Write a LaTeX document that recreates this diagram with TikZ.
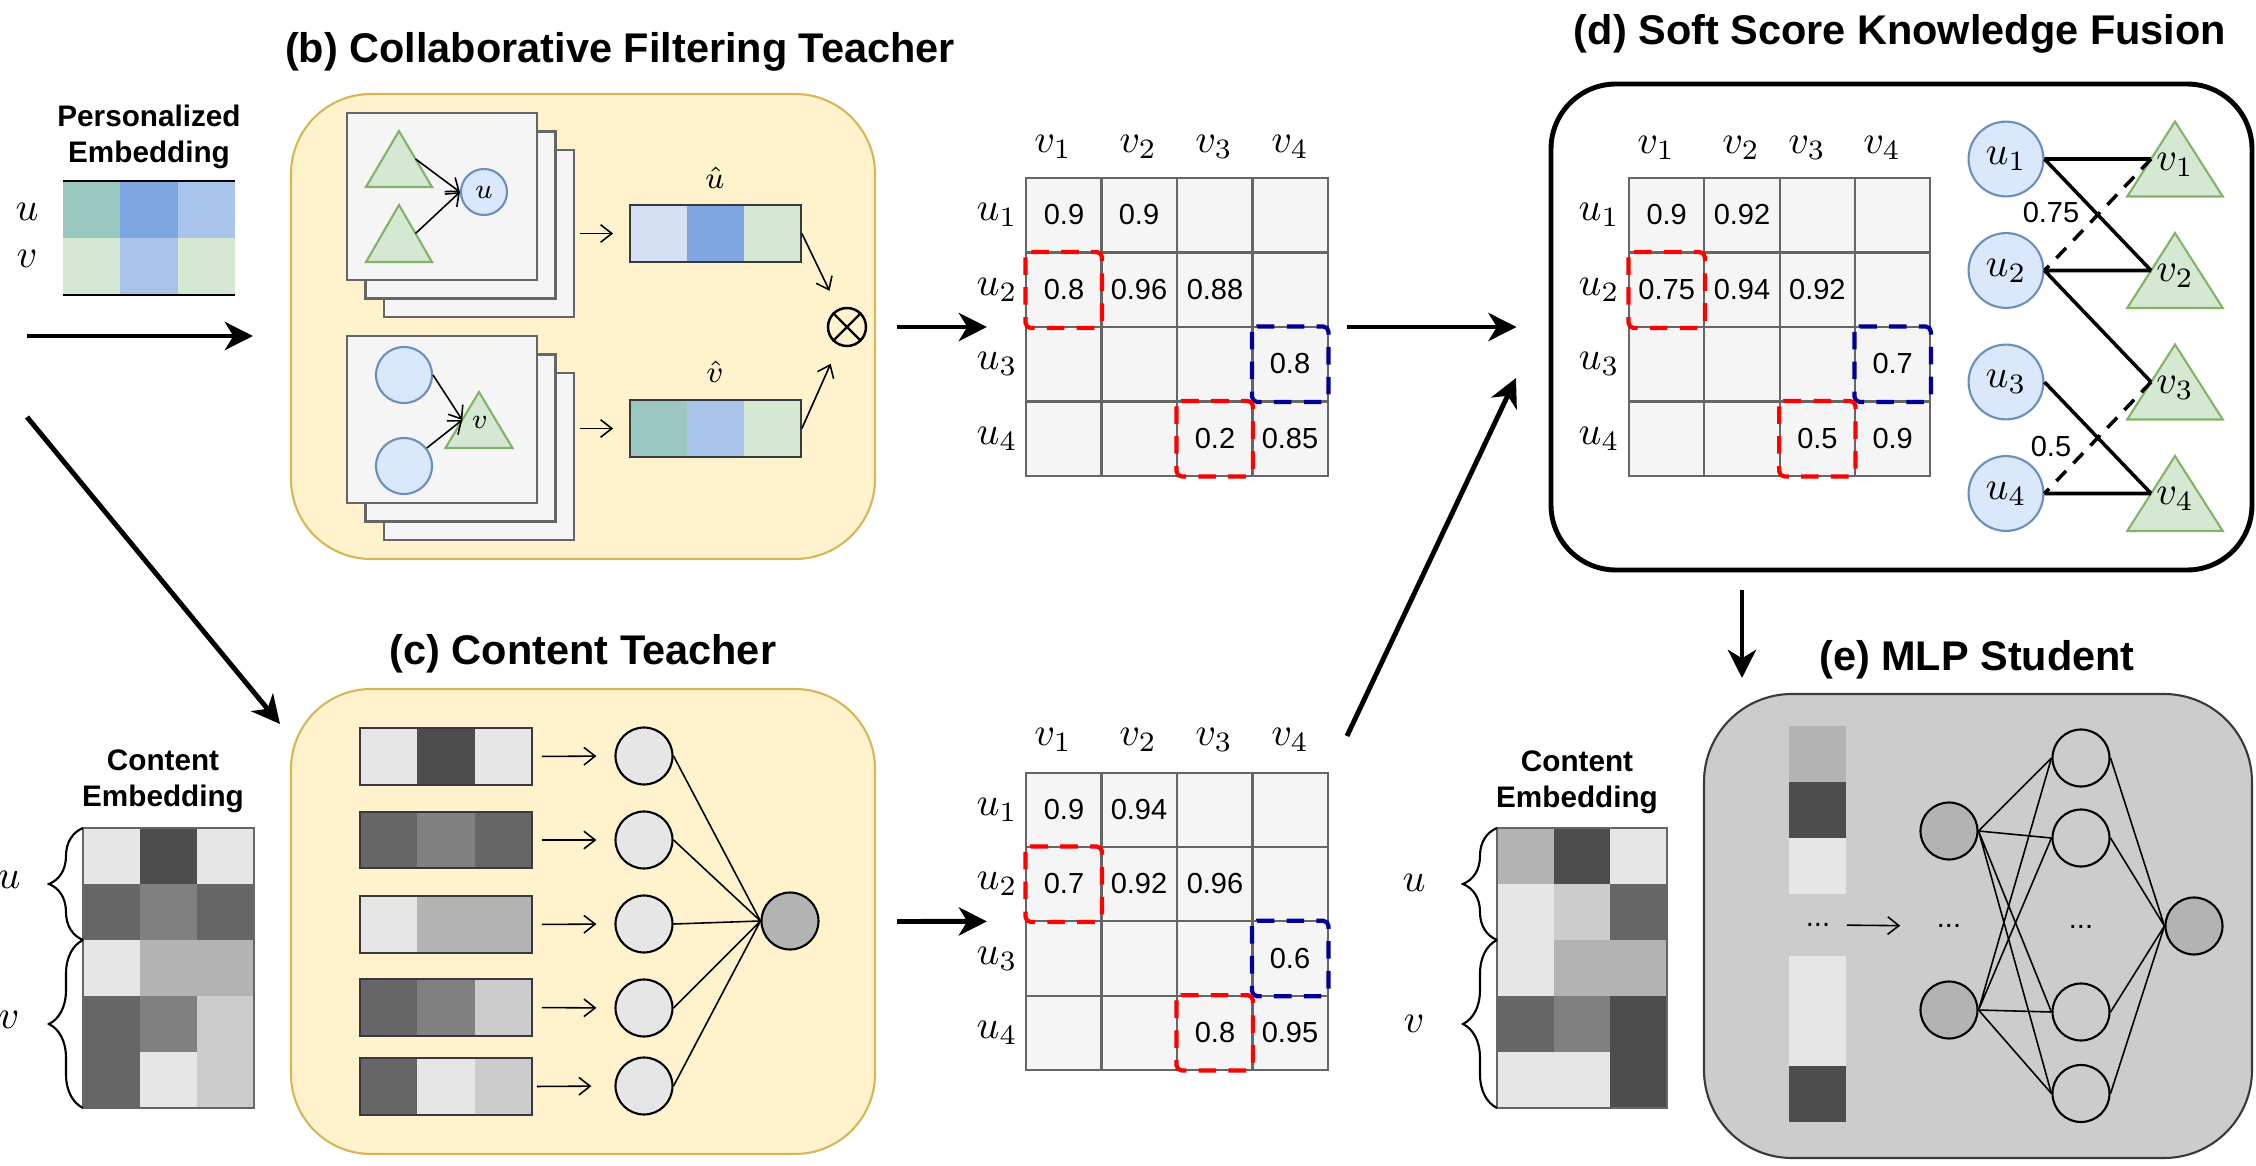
\RequirePackage{fix-cm}
\documentclass[tikz,border=0pt]{standalone}
\usepackage{fontspec}
\setmainfont{Liberation Sans}
\usepackage{tikz}
\usetikzlibrary{arrows.meta,decorations.pathreplacing}

\definecolor{yfill}{HTML}{FFF2CC}
\definecolor{ydraw}{HTML}{D6B656}
\definecolor{cteal}{HTML}{9AC7BF}
\definecolor{cblue}{HTML}{7EA6E0}
\definecolor{clblue}{HTML}{A9C4EB}
\definecolor{cpblue}{HTML}{D4E1F5}
\definecolor{cgreen}{HTML}{D5E8D4}
\definecolor{cgdraw}{HTML}{82B366}
\definecolor{cufill}{HTML}{DAE8FC}
\definecolor{cudraw}{HTML}{6C8EBF}
\definecolor{cpanel}{HTML}{F5F5F5}
\definecolor{cgrid}{HTML}{666666}
\definecolor{cnavy}{HTML}{000099}
\definecolor{g90}{HTML}{E6E6E6}
\definecolor{g80}{HTML}{CCCCCC}
\definecolor{g70}{HTML}{B3B3B3}
\definecolor{g50}{HTML}{808080}
\definecolor{g40}{HTML}{666666}
\definecolor{g30}{HTML}{4D4D4D}
\definecolor{edraw}{HTML}{36393D}

\begin{document}
\begin{tikzpicture}[y=-1cm,
  ttl/.style={anchor=base, font=\fontsize{11.8}{14}\selectfont\bfseries},
  emb/.style={align=center, inner sep=0pt, font=\fontsize{8.45}{10.2}\selectfont\bfseries},
  num/.style={inner sep=0pt, font=\fontsize{8.25}{10}\selectfont},
  lbl/.style={inner sep=0pt, font=\fontsize{11.4}{13}\selectfont},
  slbl/.style={inner sep=0pt, font=\fontsize{8}{9}\selectfont},
  mlbl/.style={inner sep=0pt, font=\fontsize{8.8}{10}\selectfont},
  big/.style={line width=1.4pt, -{Stealth[length=8pt,width=8pt,inset=2.4pt]}},
  sarr/.style={line width=0.45pt, -{Straight Barb[length=3.2pt,width=5pt]}},
  net/.style={line width=0.45pt},
  link/.style={line width=1pt},
  dlink/.style={line width=1pt, dash pattern=on 4pt off 3pt},
  ybox/.style={draw=ydraw, fill=yfill, line width=0.6pt, rounded corners=0.8cm, inner sep=0pt},
  card/.style={draw=cgrid, fill=cpanel, line width=0.7pt, minimum width=1.9cm, minimum height=1.67cm, inner sep=0pt},
  vbox/.style={draw=edraw, line width=0.5pt, inner sep=0pt},
  tri/.style={draw=cgdraw, fill=cgreen, line width=0.6pt},
  ucirc/.style={circle, draw=cudraw, fill=cufill, line width=0.6pt, inner sep=0pt},
  ncirc/.style={circle, draw=black, line width=0.6pt, inner sep=0pt, minimum size=0.57cm},
  mat/.style={draw=cgrid, fill=cpanel, line width=0.6pt, inner sep=0pt},
  cellline/.style={draw=cgrid, line width=0.6pt},
  reddash/.style={draw=red, line width=1.2pt, dash pattern=on 5pt off 3.5pt, rounded corners=1.5pt},
  bluedash/.style={draw=cnavy, line width=1.2pt, dash pattern=on 5pt off 3.5pt, rounded corners=1.5pt},
  brc/.style={decorate, decoration={brace, amplitude=0.34cm}, line width=0.6pt}]

\useasboundingbox (0,0) rectangle (22.56,11.66);

% titles:
\node[ttl] (tb) at (6.20,0.62) {(b) Collaborative Filtering Teacher};
\node[ttl] (tc) at (5.83,6.64) {(c) Content Teacher};
\node[ttl] (td) at (19.00,0.44) {(d) Soft Score Knowledge Fusion};
\node[ttl] (te) at (19.77,6.70) {(e) MLP Student};

% personalized embedding:
\node[emb] (pe) at (1.49,1.37) {Personalized\\Embedding};
\fill[cteal] (0.63,1.81) rectangle (1.203,2.38);
\fill[cblue] (1.203,1.81) rectangle (1.777,2.38);
\fill[clblue] (1.777,1.81) rectangle (2.35,2.38);
\fill[cgreen] (0.63,2.38) rectangle (1.203,2.95);
\fill[clblue] (1.203,2.38) rectangle (1.777,2.95);
\fill[cgreen] (1.777,2.38) rectangle (2.35,2.95);
\draw[line width=0.5pt] (0.63,1.81) -- (2.35,1.81) (0.63,2.95) -- (2.35,2.95);
\node[lbl] (peu) at (0.27,2.12) {$u$};
\node[lbl] (pev) at (0.27,2.59) {$v$};

% collaborative filtering teacher:
\node[ybox, minimum width=5.84cm, minimum height=4.65cm] (bbox) at (5.83,3.265) {};
\node[card] (cu3) at (4.79,2.335) {};
\node[card] (cu2) at (4.605,2.15) {};
\node[card] (cu1) at (4.42,1.965) {};
\draw[tri] (3.99,1.31) -- (4.32,1.87) -- (3.66,1.87) -- cycle;
\draw[tri] (3.99,2.05) -- (4.32,2.62) -- (3.66,2.62) -- cycle;
\coordinate (t1e) at (4.155,1.59);
\coordinate (t2e) at (4.155,2.335);
\node[ucirc, slbl, minimum size=0.46cm] (cu) at (4.84,1.92) {$u$};
\draw[sarr] (t1e) -- (cu.west);
\draw[sarr] (t2e) -- (cu.west);
\node[card] (cv3) at (4.79,4.565) {};
\node[card] (cv2) at (4.605,4.38) {};
\node[card] (cv1) at (4.42,4.195) {};
\node[ucirc, minimum size=0.56cm] (cc1) at (4.04,3.75) {};
\node[ucirc, minimum size=0.56cm] (cc2) at (4.04,4.66) {};
\draw[tri] (4.79,3.92) -- (5.125,4.48) -- (4.455,4.48) -- cycle;
\coordinate (tvw) at (4.6225,4.20);
\node[slbl] (cv) at (4.80,4.22) {$v$};
\draw[sarr] (cc1.east) -- (tvw);
\draw[sarr] (cc2) -- (tvw);
\fill[cpblue] (6.30,2.05) rectangle (6.87,2.62);
\fill[cblue] (6.87,2.05) rectangle (7.44,2.62);
\fill[cgreen] (7.44,2.05) rectangle (8.01,2.62);
\node[vbox, minimum width=1.71cm, minimum height=0.57cm] (uh) at (7.155,2.335) {};
\node[mlbl] (uhl) at (7.15,1.78) {$\hat{u}$};
\fill[cteal] (6.30,4.00) rectangle (6.87,4.57);
\fill[clblue] (6.87,4.00) rectangle (7.44,4.57);
\fill[cgreen] (7.44,4.00) rectangle (8.01,4.57);
\node[vbox, minimum width=1.71cm, minimum height=0.57cm] (vh) at (7.155,4.285) {};
\node[mlbl] (vhl) at (7.15,3.72) {$\hat{v}$};
\draw[sarr, shorten <=0.05cm, shorten >=0.16cm] (cu3.east |- uh) -- (uh.west);
\draw[sarr, shorten <=0.05cm, shorten >=0.16cm] (cv3.east |- vh) -- (vh.west);
\node[circle, draw, line width=0.7pt, minimum size=0.38cm, inner sep=0pt] (prod) at (8.47,3.27) {};
\draw[line width=0.7pt] (prod.north east) -- (prod.south west) (prod.north west) -- (prod.south east);
\draw[sarr, shorten >=0.2cm] (uh.east) -- (prod);
\draw[sarr, shorten >=0.2cm] (vh.east) -- (prod);

% content embedding, left:
\node[emb] (cel) at (1.63,7.815) {Content\\Embedding};
\fill[g90] (0.83,8.28) rectangle (1.40,8.84);
\fill[g30] (1.40,8.28) rectangle (1.97,8.84);
\fill[g90] (1.97,8.28) rectangle (2.54,8.84);
\fill[g40] (0.83,8.84) rectangle (1.40,9.40);
\fill[g50] (1.40,8.84) rectangle (1.97,9.40);
\fill[g40] (1.97,8.84) rectangle (2.54,9.40);
\fill[g90] (0.83,9.40) rectangle (1.40,9.96);
\fill[g70] (1.40,9.40) rectangle (1.97,9.96);
\fill[g70] (1.97,9.40) rectangle (2.54,9.96);
\fill[g40] (0.83,9.96) rectangle (1.40,10.52);
\fill[g50] (1.40,9.96) rectangle (1.97,10.52);
\fill[g80] (1.97,9.96) rectangle (2.54,10.52);
\fill[g40] (0.83,10.52) rectangle (1.40,11.08);
\fill[g90] (1.40,10.52) rectangle (1.97,11.08);
\fill[g80] (1.97,10.52) rectangle (2.54,11.08);
\draw[cgrid, line width=0.4pt] (0.83,8.28) rectangle (2.54,11.08);
\draw[brc] (0.83,9.40) -- (0.83,8.28);
\draw[brc] (0.83,11.08) -- (0.83,9.40);
\node[lbl] (celu) at (0.09,8.80) {$u$};
\node[lbl] (celv) at (0.09,10.20) {$v$};

% content teacher:
\node[ybox, minimum width=5.84cm, minimum height=4.65cm] (cbox) at (5.83,9.215) {};
\fill[g90] (3.60,7.28) rectangle (4.173,7.85);
\fill[g30] (4.173,7.28) rectangle (4.747,7.85);
\fill[g90] (4.747,7.28) rectangle (5.32,7.85);
\fill[g40] (3.60,8.12) rectangle (4.173,8.68);
\fill[g50] (4.173,8.12) rectangle (4.747,8.68);
\fill[g40] (4.747,8.12) rectangle (5.32,8.68);
\fill[g90] (3.60,8.96) rectangle (4.173,9.53);
\fill[g70] (4.173,8.96) rectangle (5.32,9.53);
\fill[g40] (3.60,9.79) rectangle (4.173,10.36);
\fill[g50] (4.173,9.79) rectangle (4.747,10.36);
\fill[g80] (4.747,9.79) rectangle (5.32,10.36);
\fill[g40] (3.60,10.58) rectangle (4.173,11.15);
\fill[g90] (4.173,10.58) rectangle (4.747,11.15);
\fill[g80] (4.747,10.58) rectangle (5.32,11.15);
\node[vbox, minimum width=1.72cm, minimum height=0.57cm] (k1) at (4.46,7.565) {};
\node[vbox, minimum width=1.72cm, minimum height=0.56cm] (k2) at (4.46,8.40) {};
\node[vbox, minimum width=1.72cm, minimum height=0.57cm] (k3) at (4.46,9.245) {};
\node[vbox, minimum width=1.72cm, minimum height=0.57cm] (k4) at (4.46,10.075) {};
\node[vbox, minimum width=1.72cm, minimum height=0.57cm] (k5) at (4.46,10.865) {};
\node[ncirc, fill=g90] (n1) at (6.44,7.56) {};
\node[ncirc, fill=g90] (n2) at (6.44,8.40) {};
\node[ncirc, fill=g90] (n3) at (6.44,9.24) {};
\node[ncirc, fill=g90] (n4) at (6.44,10.08) {};
\node[ncirc, fill=g90] (n5) at (6.44,10.86) {};
\node[ncirc, fill=g70] (nout) at (7.90,9.21) {};
\draw[sarr, shorten <=0.09cm, shorten >=0.18cm] (k1.east) -- (n1.west);
\draw[sarr, shorten <=0.09cm, shorten >=0.18cm] (k2.east) -- (n2.west);
\draw[sarr, shorten <=0.09cm, shorten >=0.18cm] (k3.east) -- (n3.west);
\draw[sarr, shorten <=0.09cm, shorten >=0.18cm] (k4.east) -- (n4.west);
\draw[sarr, shorten <=0.04cm, shorten >=0.23cm] (k5.east) -- (n5.west);
\draw[net] (n1.east) -- (nout.west) (n2.east) -- (nout.west) (n3.east) -- (nout.west) (n4.east) -- (nout.west) (n5.east) -- (nout.west);

% score matrix of (b):
\node[mat, minimum width=3.02cm, minimum height=2.98cm] (am) at (11.77,3.27) {};
\draw[cellline] (11.015,1.78) -- (11.015,4.76) (11.77,1.78) -- (11.77,4.76) (12.525,1.78) -- (12.525,4.76) (10.26,2.525) -- (13.28,2.525) (10.26,3.27) -- (13.28,3.27) (10.26,4.015) -- (13.28,4.015);
\node[lbl] (av1) at (10.53,1.47) {$v_1$};
\node[lbl] (av2) at (11.38,1.47) {$v_2$};
\node[lbl] (av3) at (12.14,1.47) {$v_3$};
\node[lbl] (av4) at (12.90,1.47) {$v_4$};
\node[lbl] (au1) at (9.97,2.15) {$u_1$};
\node[lbl] (au2) at (9.97,2.90) {$u_2$};
\node[lbl] (au3) at (9.97,3.64) {$u_3$};
\node[lbl] (au4) at (9.97,4.39) {$u_4$};
\node[num] (a11) at (10.64,2.15) {0.9};
\node[num] (a12) at (11.39,2.15) {0.9};
\node[num] (a21) at (10.64,2.90) {0.8};
\node[num] (a22) at (11.39,2.90) {0.96};
\node[num] (a23) at (12.15,2.90) {0.88};
\node[num] (a34) at (12.90,3.64) {0.8};
\node[num] (a43) at (12.15,4.39) {0.2};
\node[num] (a44) at (12.90,4.39) {0.85};
\draw[reddash] (10.255,2.52) rectangle (11.02,3.28);
\draw[bluedash] (12.52,3.265) rectangle (13.285,4.02);
\draw[reddash] (11.765,4.01) rectangle (12.53,4.765);

% score matrix of (c):
\node[mat, minimum width=3.02cm, minimum height=2.973cm] (bm) at (11.77,9.2135) {};
\draw[cellline] (11.015,7.727) -- (11.015,10.70) (11.77,7.727) -- (11.77,10.70) (12.525,7.727) -- (12.525,10.70) (10.26,8.47) -- (13.28,8.47) (10.26,9.213) -- (13.28,9.213) (10.26,9.957) -- (13.28,9.957);
\node[lbl] (bv1) at (10.53,7.40) {$v_1$};
\node[lbl] (bv2) at (11.38,7.40) {$v_2$};
\node[lbl] (bv3) at (12.14,7.40) {$v_3$};
\node[lbl] (bv4) at (12.90,7.40) {$v_4$};
\node[lbl] (bu1) at (9.97,8.10) {$u_1$};
\node[lbl] (bu2) at (9.97,8.84) {$u_2$};
\node[lbl] (bu3) at (9.97,9.585) {$u_3$};
\node[lbl] (bu4) at (9.97,10.33) {$u_4$};
\node[num] (b11) at (10.64,8.10) {0.9};
\node[num] (b12) at (11.39,8.10) {0.94};
\node[num] (b21) at (10.64,8.84) {0.7};
\node[num] (b22) at (11.39,8.84) {0.92};
\node[num] (b23) at (12.15,8.84) {0.96};
\node[num] (b34) at (12.90,9.585) {0.6};
\node[num] (b43) at (12.15,10.33) {0.8};
\node[num] (b44) at (12.90,10.33) {0.95};
\draw[reddash] (10.255,8.465) rectangle (11.02,9.22);
\draw[bluedash] (12.52,9.208) rectangle (13.285,9.962);
\draw[reddash] (11.765,9.952) rectangle (12.53,10.705);

% soft score knowledge fusion:
\node[draw, line width=1.4pt, rounded corners=0.65cm, minimum width=7.01cm, minimum height=4.86cm, inner sep=0pt] (dbox) at (19.015,3.27) {};
\node[mat, minimum width=3.014cm, minimum height=2.98cm] (dm) at (17.797,3.27) {};
\draw[cellline] (17.044,1.78) -- (17.044,4.76) (17.797,1.78) -- (17.797,4.76) (18.55,1.78) -- (18.55,4.76) (16.29,2.525) -- (19.304,2.525) (16.29,3.27) -- (19.304,3.27) (16.29,4.015) -- (19.304,4.015);
\node[lbl] (dv1) at (16.56,1.48) {$v_1$};
\node[lbl] (dv2) at (17.41,1.48) {$v_2$};
\node[lbl] (dv3) at (18.07,1.48) {$v_3$};
\node[lbl] (dv4) at (18.82,1.48) {$v_4$};
\node[lbl] (du1) at (15.99,2.15) {$u_1$};
\node[lbl] (du2) at (15.99,2.90) {$u_2$};
\node[lbl] (du3) at (15.99,3.64) {$u_3$};
\node[lbl] (du4) at (15.99,4.39) {$u_4$};
\node[num] (d11) at (16.667,2.15) {0.9};
\node[num] (d12) at (17.42,2.15) {0.92};
\node[num] (d21) at (16.667,2.90) {0.75};
\node[num] (d22) at (17.42,2.90) {0.94};
\node[num] (d23) at (18.174,2.90) {0.92};
\node[num] (d34) at (18.927,3.64) {0.7};
\node[num] (d43) at (18.174,4.39) {0.5};
\node[num] (d44) at (18.927,4.39) {0.9};
\draw[reddash] (16.285,2.52) rectangle (17.049,3.28);
\draw[bluedash] (18.545,3.265) rectangle (19.309,4.02);
\draw[reddash] (17.792,4.01) rectangle (18.555,4.765);
\node[ucirc, lbl, minimum size=0.748cm] (u1) at (20.06,1.59) {$u_1$};
\node[ucirc, lbl, minimum size=0.748cm] (u2) at (20.06,2.705) {$u_2$};
\node[ucirc, lbl, minimum size=0.748cm] (u3) at (20.06,3.82) {$u_3$};
\node[ucirc, lbl, minimum size=0.748cm] (u4) at (20.06,4.935) {$u_4$};
\draw[tri] (21.75,1.215) -- (22.2275,1.965) -- (21.2725,1.965) -- cycle;
\draw[tri] (21.75,2.33) -- (22.2275,3.08) -- (21.2725,3.08) -- cycle;
\draw[tri] (21.75,3.445) -- (22.2275,4.195) -- (21.2725,4.195) -- cycle;
\draw[tri] (21.75,4.56) -- (22.2275,5.31) -- (21.2725,5.31) -- cycle;
\coordinate (v1w) at (21.511,1.59);
\coordinate (v2w) at (21.511,2.705);
\coordinate (v3w) at (21.511,3.82);
\coordinate (v4w) at (21.511,4.935);
\node[lbl] (v1) at (21.75,1.645) {$v_1$};
\node[lbl] (v2) at (21.75,2.76) {$v_2$};
\node[lbl] (v3) at (21.75,3.875) {$v_3$};
\node[lbl] (v4) at (21.75,4.99) {$v_4$};
\draw[link] (u1.east) -- (v1w) (u1.east) -- (v2w) (u2.east) -- (v2w) (u2.east) -- (v3w) (u3.east) -- (v4w) (u4.east) -- (v4w);
\draw[dlink] (v1w) -- (u2.east) (v3w) -- (u4.east);
\node[num] (w12) at (20.51,2.13) {0.75};
\node[num] (w34) at (20.51,4.47) {0.5};

% content embedding, right:
\node[emb] (cer) at (15.77,7.825) {Content\\Embedding};
\fill[g70] (14.97,8.28) rectangle (15.537,8.84);
\fill[g30] (15.537,8.28) rectangle (16.103,8.84);
\fill[g90] (16.103,8.28) rectangle (16.67,8.84);
\fill[g90] (14.97,8.84) rectangle (15.537,9.40);
\fill[g80] (15.537,8.84) rectangle (16.103,9.40);
\fill[g40] (16.103,8.84) rectangle (16.67,9.40);
\fill[g90] (14.97,9.40) rectangle (15.537,9.96);
\fill[g70] (15.537,9.40) rectangle (16.67,9.96);
\fill[g40] (14.97,9.96) rectangle (15.537,10.52);
\fill[g50] (15.537,9.96) rectangle (16.103,10.52);
\fill[g30] (16.103,9.96) rectangle (16.67,11.08);
\fill[g90] (14.97,10.52) rectangle (16.103,11.08);
\draw[cgrid, line width=0.4pt] (14.97,8.28) rectangle (16.67,11.08);
\draw[brc] (14.97,9.40) -- (14.97,8.28);
\draw[brc] (14.97,11.08) -- (14.97,9.40);
\node[lbl] (ceru) at (14.14,8.83) {$u$};
\node[lbl] (cerv) at (14.14,10.24) {$v$};

% mlp student:
\node[draw=edraw, fill=g80, line width=0.6pt, rounded corners=0.88cm, minimum width=5.48cm, minimum height=4.64cm, inner sep=0pt] (ebox) at (19.78,9.26) {};
\fill[g70] (17.89,7.26) rectangle (18.46,7.82);
\fill[g30] (17.89,7.82) rectangle (18.46,8.38);
\fill[g90] (17.89,8.38) rectangle (18.46,8.94);
\fill[g90] (17.89,9.56) rectangle (18.46,10.66);
\fill[g30] (17.89,10.66) rectangle (18.46,11.22);
\node[num] (ed1) at (18.18,9.25) {...};
\node[num] (ed2) at (19.49,9.26) {...};
\node[num] (ed3) at (20.81,9.27) {...};
\draw[sarr, shorten <=0.16cm, shorten >=0.36cm] (ed1.east) -- (ed2.west);
\node[ncirc, fill=g70] (ha) at (19.49,8.31) {};
\node[ncirc, fill=g70] (hb) at (19.49,10.10) {};
\node[ncirc] (ga) at (20.81,7.58) {};
\node[ncirc] (gb) at (20.81,8.38) {};
\node[ncirc] (gc) at (20.81,10.12) {};
\node[ncirc] (gd) at (20.81,10.935) {};
\node[ncirc, fill=g70] (eo) at (21.94,9.26) {};
\draw[net] (ha.east) -- (ga.west) (ha.east) -- (gb.west) (ha.east) -- (gc.west) (ha.east) -- (gd.west);
\draw[net] (hb.east) -- (ga.west) (hb.east) -- (gb.west) (hb.east) -- (gc.west) (hb.east) -- (gd.west);
\draw[net] (ga.east) -- (eo.west) (gb.east) -- (eo.west) (gc.east) -- (eo.west) (gd.east) -- (eo.west);

% arrows:
\coordinate (p0) at (0.27,3.36);
\coordinate (p1) at (2.53,3.36);
\coordinate (q0) at (0.27,4.17);
\coordinate (q1) at (2.80,7.24);
\coordinate (r0) at (13.47,7.36);
\coordinate (r1) at (15.16,3.78);
\coordinate (s0) at (17.42,5.90);
\coordinate (s1) at (17.42,6.78);
\draw[big] (p0) -- (p1);
\draw[big] (q0) -- (q1);
\draw[big, shorten <=0.3cm, shorten >=0.38cm] (prod) -- (am.west);
\draw[big, shorten <=0.21cm, shorten >=0.38cm] (cbox.east) -- (bm.west);
\draw[big, shorten <=0.18cm, shorten >=0.32cm] (am.east) -- (dbox.west);
\draw[big] (r0) -- (r1);
\draw[big] (s0) -- (s1);

\end{tikzpicture}
\end{document}
